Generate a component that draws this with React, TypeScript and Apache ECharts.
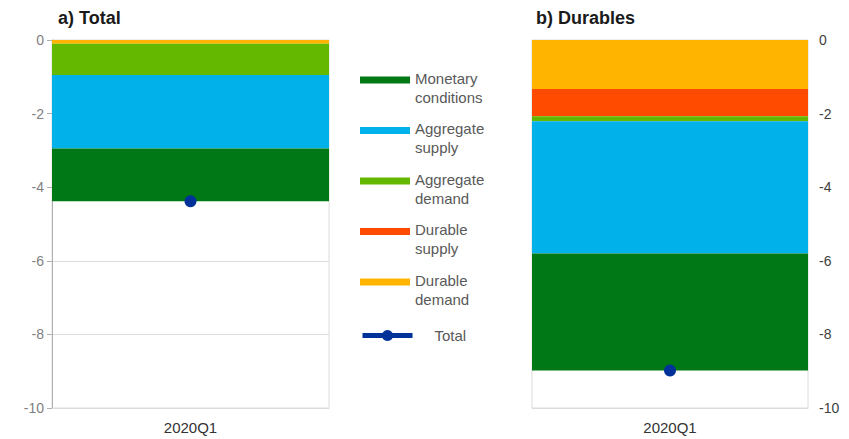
import React, { useEffect, useRef } from "react";
import * as echarts from "echarts";

const quarters = ["2020Q1"];

// a) Total
const totalMonetary = [-1.43];
const totalAggSupply = [-2.0];
const totalAggDemand = [-0.85];
const totalDurSupply = [0];
const totalDurDemand = [-0.1];
const totalTotal = [-4.38];

// b) Durables
const durMonetary = [-3.18];
const durAggSupply = [-3.59];
const durAggDemand = [-0.14];
const durDurSupply = [-0.74];
const durDurDemand = [-1.33];
const durTotal = [-8.98];

const yMin = -10;
const yMax = 0;
const yStep = 2;

const legendLabels: Record<string, [string, string]> = {
  "Monetary conditions": ["Monetary", "conditions"],
  "Aggregate supply": ["Aggregate", "supply"],
  "Aggregate demand": ["Aggregate", "demand"],
  "Durable supply": ["Durable", "supply"],
  "Durable demand": ["Durable", "demand"],
};

const colors: Record<string, string> = {
  "Monetary conditions": "#007816",
  "Aggregate supply": "#00b1ea",
  "Aggregate demand": "#65b800",
  "Durable supply": "#ff4b00",
  "Durable demand": "#ffb400",
};

const font = '"Liberation Sans", Arial, sans-serif';

const App: React.FC = () => {
  const chartRef = useRef<HTMLDivElement>(null);

  useEffect(() => {
    if (!chartRef.current) return;
    const chart = echarts.init(chartRef.current, undefined, { renderer: "svg" });

    // stacking order from zero downwards
    const panels = [
      {
        stack: "a",
        parts: [
          ["Durable demand", totalDurDemand],
          ["Durable supply", totalDurSupply],
          ["Aggregate demand", totalAggDemand],
          ["Aggregate supply", totalAggSupply],
          ["Monetary conditions", totalMonetary],
        ] as [string, number[]][],
        total: totalTotal,
      },
      {
        stack: "b",
        parts: [
          ["Durable demand", durDurDemand],
          ["Durable supply", durDurSupply],
          ["Aggregate demand", durAggDemand],
          ["Aggregate supply", durAggSupply],
          ["Monetary conditions", durMonetary],
        ] as [string, number[]][],
        total: durTotal,
      },
    ];

    const series: any[] = [];
    panels.forEach((p, i) => {
      p.parts.forEach(([name, data]) => {
        series.push({
          type: "bar",
          name,
          xAxisIndex: i,
          yAxisIndex: i,
          stack: p.stack,
          data,
          barWidth: "100%",
          itemStyle: { color: colors[name] },
        });
      });
      series.push({
        type: "line",
        name: "Total",
        xAxisIndex: i,
        yAxisIndex: i,
        data: p.total,
        symbol: "circle",
        symbolSize: 12,
        itemStyle: { color: "#003299" },
        lineStyle: { color: "#003299", width: 4 },
        z: 5,
      });
    });

    const xAxisCommon = {
      type: "category",
      data: quarters,
      position: "bottom",
      axisLine: { onZero: false, lineStyle: { color: "#dcdcdc" } },
      axisTick: { show: false },
      axisLabel: { fontSize: 15, color: "#333333", margin: 12, fontFamily: font },
      splitLine: { show: false },
    };

    const option = {
      animation: false,
      title: [
        {
          text: "a) Total",
          left: 53,
          top: 4,
          textStyle: { fontSize: 18, fontWeight: "bold", color: "#1a1a1a", fontFamily: font },
        },
        {
          text: "b) Durables",
          left: 531,
          top: 4,
          textStyle: { fontSize: 18, fontWeight: "bold", color: "#1a1a1a", fontFamily: font },
        },
      ],
      legend: [
        {
          orient: "vertical",
          left: 360,
          top: 56,
          padding: 0,
          itemWidth: 50,
          itemHeight: 7,
          itemGap: 2,
          icon: "rect",
          selectedMode: false,
          data: Object.keys(legendLabels),
          // a spacer line on top pushes the two text lines down so the first sits on the icon
          formatter: (n: string) => {
            const l = legendLabels[n];
            return l ? `{s| }\n{t|${l[0]}}\n{t|${l[1]}}` : n;
          },
          textStyle: {
            fontSize: 15,
            color: "#595959",
            fontFamily: font,
            rich: {
              s: { fontSize: 10, lineHeight: 15 },
              t: { fontSize: 15, lineHeight: 19, color: "#595959", fontFamily: font },
            },
          },
        },
        {
          orient: "vertical",
          left: 360,
          top: 328,
          padding: 0,
          itemWidth: 50,
          itemHeight: 14,
          selectedMode: false,
          data: ["Total"],
          lineStyle: { width: 5 },
          textStyle: {
            fontSize: 15,
            color: "#595959",
            padding: [0, 0, 0, 17],
            fontFamily: font,
          },
        },
      ],
      grid: [
        { left: 52, top: 40, width: 277, height: 368, show: true, borderColor: "#dcdcdc", borderWidth: 1 },
        { left: 532, top: 40, width: 276, height: 368, show: true, borderColor: "#dcdcdc", borderWidth: 1 },
      ],
      xAxis: [
        { ...xAxisCommon, gridIndex: 0 },
        { ...xAxisCommon, gridIndex: 1 },
      ],
      yAxis: [
        {
          type: "value",
          gridIndex: 0,
          min: yMin,
          max: yMax,
          interval: yStep,
          axisLine: { show: true, lineStyle: { color: "#b0b0b0" } },
          axisTick: { show: true, length: 5, lineStyle: { color: "#b0b0b0" } },
          axisLabel: { fontSize: 14, color: "#7f7f7f", margin: 8, fontFamily: font },
          splitLine: { lineStyle: { color: "#dcdcdc" } },
        },
        {
          type: "value",
          gridIndex: 1,
          position: "right",
          min: yMin,
          max: yMax,
          interval: yStep,
          axisLine: { show: false },
          axisTick: { show: false },
          axisLabel: { fontSize: 14, color: "#404040", margin: 11, fontFamily: font },
          splitLine: { lineStyle: { color: "#dcdcdc" } },
        },
      ],
      series,
    };

    chart.setOption(option);
    return () => {
      chart.dispose();
    };
  }, []);

  return (
    <div
      ref={chartRef}
      style={{ position: "absolute", left: 0, top: 0, width: "849px", height: "439px" }}
    />
  );
};

export default App;
